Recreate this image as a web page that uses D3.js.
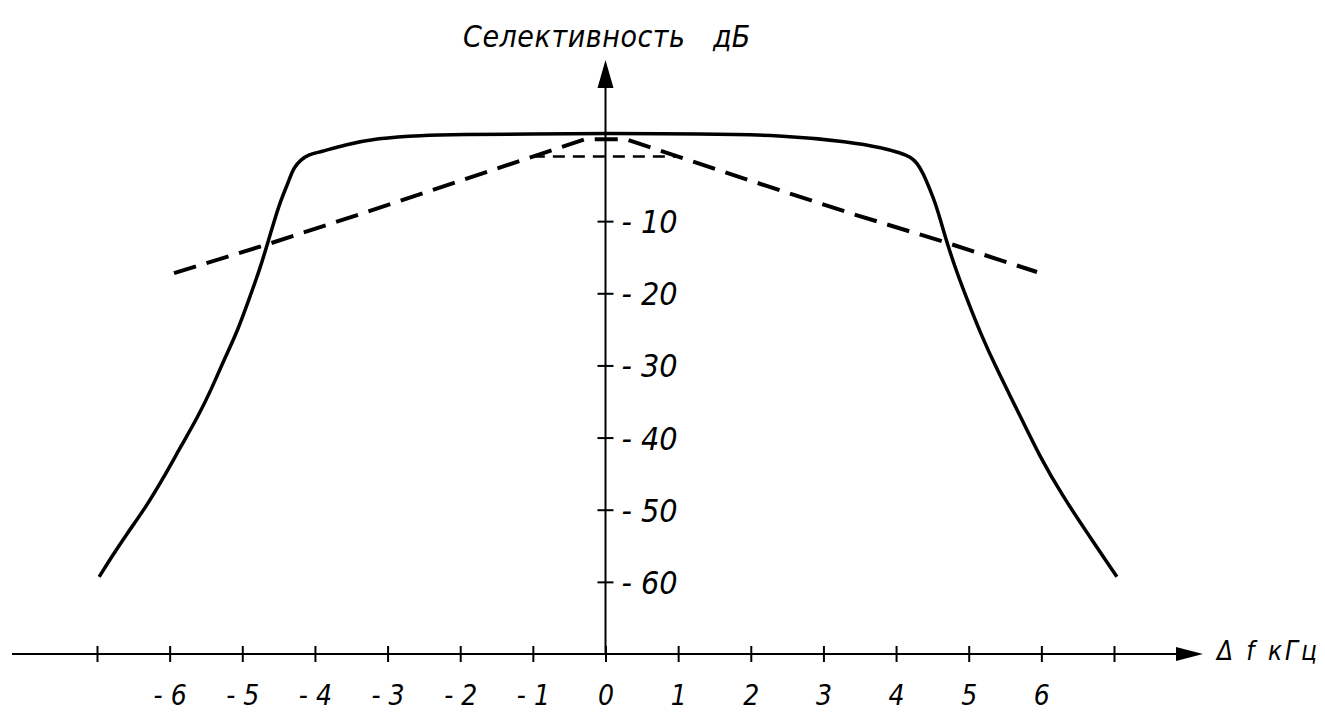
<!DOCTYPE html>
<html>
<head>
<meta charset="utf-8">
<script src="https://cdn.jsdelivr.net/npm/d3@7"></script>
<style>
  body { margin: 0; background: #fff; }
  text { font-family: "DejaVu Sans Condensed", "Liberation Sans Narrow", sans-serif; font-stretch: condensed; font-style: italic; fill: #000; }
</style>
</head>
<body>
<div id="chart"></div>
<script>
// values (kHz, dB)
var xTicks = [-7, -6, -5, -4, -3, -2, -1, 0, 1, 2, 3, 4, 5, 6, 7];
var xTickLabels = ["", "- 6", "- 5", "- 4", "- 3", "- 2", "- 1", "0", "1", "2", "3", "4", "5", "6", ""];
var yTicks = [-10, -20, -30, -40, -50, -60];
var yTickLabels = ["- 10", "- 20", "- 30", "- 40", "- 50", "- 60"];

// solid curve: selectivity of the filter
var solidF = [-6.97, -6.81, -6.58, -6.35, -6.08, -5.85, -5.61, -5.43, -5.25, -5.06, -4.91, -4.75, -4.65, -4.57, -4.47, -4.37, -4.29, -4.19, -4.10, -3.92, -3.60, -3.14, -2.54, -1.99, -1.03, 0,
              1.31, 2.41, 3.37, 3.82, 4.06, 4.20, 4.29, 4.37, 4.47, 4.54, 4.61, 4.70, 4.84, 4.98, 5.16, 5.39, 5.67, 5.98, 6.30, 6.63, 7.04];
var solidDb = [-59.3, -56.7, -53.2, -50.0, -45.5, -41.3, -37.1, -33.4, -29.2, -25.1, -20.9, -16.4, -13.0, -10.3, -7.1, -4.7, -2.5, -1.5, -0.8, -0.4, 0.55, 1.5, 1.9, 2.0, 2.1, 2.15,
               2.1, 1.95, 1.0, 0.15, -0.55, -1.1, -1.95, -3.3, -5.7, -7.5, -9.8, -13.0, -17.2, -20.9, -25.5, -30.6, -36.2, -42.7, -48.2, -53.2, -59.3];

// long dashed curve
var dashF = [-5.94, -4.65, -3.37, -2, -1, -0.28, 0.28, 1, 2, 3.37, 4.7, 5.94];
var dashDb = [-17.2, -13.2, -9.0, -4.4, -1.05, 1.35, 1.35, -1.05, -4.4, -8.9, -13.0, -17.05];

// short dashed level line
var levelF = [-1, 1];
var levelDb = [-1.05, -1.05];

var width = 1325, height = 717;

var svg = d3.select("#chart")
  .append("svg")
  .attr("width", width)
  .attr("height", height);

var x = d3.scaleLinear().domain([-7, 7]).range([97, 1114]);
var y = d3.scaleLinear().domain([-70, 0]).range([654, 149]);

// x axis: long line with arrow
svg.append("line")
  .attr("x1", 12).attr("x2", 1180)
  .attr("y1", y(-70)).attr("y2", y(-70))
  .attr("stroke", "#000").attr("stroke-width", 2);
svg.append("path")
  .attr("d", d3.line()([[1176, y(-70) - 7], [1203, y(-70)], [1176, y(-70) + 7]]) + "Z")
  .attr("fill", "#000");

var xAxis = svg.append("g")
  .attr("transform", "translate(0," + y(-70) + ")")
  .call(d3.axisBottom(x).tickValues(xTicks).tickFormat(function(d, i) { return xTickLabels[i]; }));
xAxis.select(".domain").remove();
xAxis.selectAll(".tick line").attr("y1", -8).attr("y2", 8).attr("stroke-width", 2);
xAxis.selectAll(".tick text")
  .attr("y", 51).attr("dy", 0)
  .style("font-size", "28px");

// y axis: vertical line with arrow
svg.append("line")
  .attr("x1", x(0)).attr("x2", x(0))
  .attr("y1", y(-70)).attr("y2", 84)
  .attr("stroke", "#000").attr("stroke-width", 2);
svg.append("path")
  .attr("d", d3.line()([[x(0) - 8, 88], [x(0), 60], [x(0) + 8, 88]]) + "Z")
  .attr("fill", "#000");

var yAxis = svg.append("g")
  .attr("transform", "translate(" + x(0) + ",0)")
  .call(d3.axisRight(y).tickValues(yTicks).tickFormat(function(d, i) { return yTickLabels[i]; }));
yAxis.select(".domain").remove();
yAxis.selectAll(".tick line").attr("x1", -8).attr("x2", 8).attr("stroke-width", 2);
yAxis.selectAll(".tick text")
  .attr("x", 16).attr("dy", "0.36em")
  .style("font-size", "32px");

// titles (two pieces, the drawing has a wide gap before the unit)
svg.append("text")
  .attr("x", 463).attr("y", 47)
  .attr("textLength", 222).attr("lengthAdjust", "spacing")
  .style("font-size", "30px")
  .text("Селективность");
svg.append("text")
  .attr("x", 713).attr("y", 47)
  .style("font-size", "30px")
  .text("дБ");

svg.append("text")
  .attr("x", 1217).attr("y", 660)
  .attr("textLength", 100).attr("lengthAdjust", "spacing")
  .style("font-size", "26px")
  .text("Δ f кГц");

// curves
var line = d3.line()
  .x(function(d) { return x(d[0]); })
  .y(function(d) { return y(d[1]); });

svg.append("path")
  .datum(solidF.map(function(f, i) { return [f, solidDb[i]]; }))
  .attr("fill", "none")
  .attr("stroke", "#000")
  .attr("stroke-width", 3.5)
  .attr("stroke-linejoin", "round")
  .attr("d", line.curve(d3.curveBasis));

svg.append("path")
  .datum(dashF.map(function(f, i) { return [f, dashDb[i]]; }))
  .attr("fill", "none")
  .attr("stroke", "#000")
  .attr("stroke-width", 4)
  .attr("stroke-dasharray", "23,11")
  .attr("d", line.curve(d3.curveLinear));

svg.append("path")
  .datum(levelF.map(function(f, i) { return [f, levelDb[i]]; }))
  .attr("fill", "none")
  .attr("stroke", "#000")
  .attr("stroke-width", 2.5)
  .attr("stroke-dasharray", "12,8")
  .attr("d", line.curve(d3.curveLinear));
</script>
</body>
</html>
